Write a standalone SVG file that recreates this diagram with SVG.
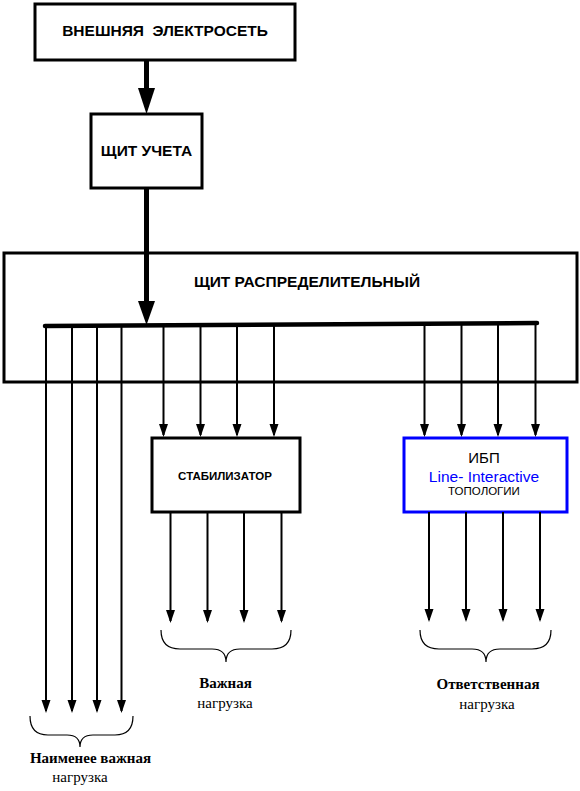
<svg xmlns="http://www.w3.org/2000/svg" width="580" height="791" viewBox="0 0 580 791">
<style>
.box{fill:#fff;stroke:#000;stroke-width:3}
.ups{fill:#fff;stroke:#0000ff;stroke-width:3}
.hb{font-family:"Liberation Sans",Arial,sans-serif;font-weight:bold;fill:#000;text-anchor:middle}
.hr{font-family:"Liberation Sans",Arial,sans-serif;fill:#000;text-anchor:middle}
.sb{font-family:"Liberation Serif","Times New Roman",serif;font-weight:bold;font-size:15px;fill:#000;text-anchor:middle}
.sr{font-family:"Liberation Serif","Times New Roman",serif;font-size:15px;fill:#000;text-anchor:middle}
.w{stroke:#000;stroke-width:2;fill:none;marker-end:url(#ah)}
.thick{stroke:#000;stroke-width:5;fill:none}
.brace{stroke:#000;stroke-width:1.2;fill:none}
</style>
<defs>
<marker id="ah" markerUnits="userSpaceOnUse" markerWidth="14" markerHeight="10" refX="11" refY="4.5" orient="auto">
<path d="M0,0 L13,4.5 L0,9 z" fill="#000"/>
</marker>
</defs>

<g id="grid-node">
<rect class="box" x="35" y="4" width="260" height="56"/>
<text class="hb" x="165" y="36" font-size="15.5" xml:space="preserve">ВНЕШНЯЯ  ЭЛЕКТРОСЕТЬ</text>
</g>

<g id="meter-node">
<rect class="box" x="91" y="114" width="111" height="74"/>
<text class="hb" x="146.5" y="156" font-size="15.5">ЩИТ УЧЕТА</text>
</g>

<g id="distribution-node">
<rect class="box" x="4" y="253" width="573" height="129"/>
<text class="hb" x="307" y="287" font-size="15.5">ЩИТ РАСПРЕДЕЛИТЕЛЬНЫЙ</text>
</g>

<g id="stabilizer-node">
<rect class="box" x="152" y="438" width="148" height="74"/>
<text class="hb" x="225" y="480" font-size="11.5">СТАБИЛИЗАТОР</text>
</g>

<g id="ups-node">
<rect class="ups" x="404" y="438" width="163" height="74"/>
<text class="hr" x="484" y="463" font-size="15">ИБП</text>
<text class="hr" x="484" y="481.5" font-size="15.5" fill="#0000ff" style="fill:#0000ff">Line- Interactive</text>
<text class="hr" x="484" y="495" font-size="11.5">ТОПОЛОГИИ</text>
</g>

<g id="connectors">
<line class="thick" x1="146.5" y1="60" x2="146.5" y2="90"/>
<polygon points="138,88 155,88 146.5,114" fill="#000"/>
<line class="thick" x1="146.5" y1="188" x2="146.5" y2="303"/>
<polygon points="138,301 155,301 146.5,325" fill="#000"/>
<path d="M45,326 L537,323" stroke="#000" stroke-width="4.5" stroke-linecap="round" fill="none"/>

<line class="w" x1="46" y1="326" x2="46" y2="711"/>
<line class="w" x1="72" y1="326" x2="72" y2="711"/>
<line class="w" x1="97" y1="326" x2="97" y2="711"/>
<line class="w" x1="121.5" y1="326" x2="121.5" y2="711"/>

<line class="w" x1="163.5" y1="325" x2="163.5" y2="435"/>
<line class="w" x1="200.5" y1="325" x2="200.5" y2="435"/>
<line class="w" x1="237" y1="325" x2="237" y2="435"/>
<line class="w" x1="274" y1="325" x2="274" y2="435"/>

<line class="w" x1="424.5" y1="324" x2="424.5" y2="435"/>
<line class="w" x1="461.5" y1="324" x2="461.5" y2="435"/>
<line class="w" x1="498" y1="324" x2="498" y2="435"/>
<line class="w" x1="535.5" y1="324" x2="535.5" y2="435"/>

<line class="w" x1="170.5" y1="512" x2="170.5" y2="621"/>
<line class="w" x1="207.5" y1="512" x2="207.5" y2="621"/>
<line class="w" x1="244" y1="512" x2="244" y2="621"/>
<line class="w" x1="281.5" y1="512" x2="281.5" y2="621"/>

<line class="w" x1="429" y1="512" x2="429" y2="620"/>
<line class="w" x1="466" y1="512" x2="466" y2="620"/>
<line class="w" x1="503" y1="512" x2="503" y2="620"/>
<line class="w" x1="540" y1="512" x2="540" y2="620"/>
</g>

<g id="load-important">
<path class="brace" d="M161,630 Q161,649 180,649 L212,649 Q226,649 226,662 Q226,649 240,649 L272,649 Q291,649 291,630"/>
<text class="sb" x="225.5" y="688">Важная</text>
<text class="sr" x="225" y="708">нагрузка</text>
</g>

<g id="load-critical">
<path class="brace" d="M420,630 Q420,649 439,649 L472,649 Q486,649 486,662 Q486,649 500,649 L532,649 Q551,649 551,630"/>
<text class="sb" x="488" y="689">Ответственная</text>
<text class="sr" x="487" y="709">нагрузка</text>
</g>

<g id="load-least">
<path class="brace" d="M30,716 Q30,735 48,735 L67,735 Q80,735 80,747 Q80,735 93,735 L115,735 Q133,735 133,716"/>
<text class="sb" x="90.5" y="763">Наименее важная</text>
<text class="sr" x="80" y="782">нагрузка</text>
</g>
</svg>
